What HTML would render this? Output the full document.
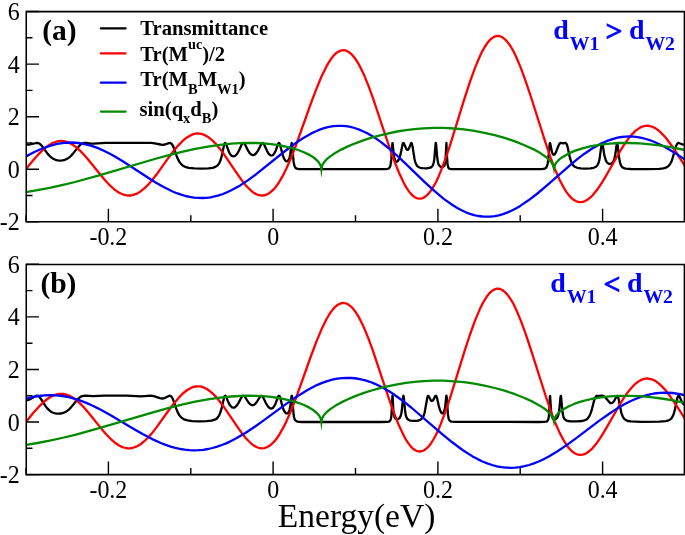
<!DOCTYPE html>
<html><head><meta charset="utf-8"><style>
html,body{margin:0;padding:0;background:#fff;width:685px;height:535px;overflow:hidden}
svg{display:block;will-change:transform}
text{font-family:"Liberation Serif",serif}
.tl{font-size:24px}
.pl{font-size:29.5px;font-weight:bold}
.dl{font-size:28px;font-weight:bold;fill:#00f}
.dls{font-size:19.7px;font-weight:bold;fill:#00f}
.dlr{font-size:30px;font-weight:bold;fill:#00f;stroke:#00f;stroke-width:0.7px}
.sub{font-size:18px}
.lg{font-size:20.6px;font-weight:bold}
.sup{font-size:14.3px}
.sub2{font-size:14.5px}
.ax{font-size:33.5px}
</style></head><body>
<svg width="685" height="535" viewBox="0 0 685 535">
<rect width="685" height="535" fill="#fff"/>
<clipPath id="c0"><rect x="26.0" y="10.5" width="659.0" height="212.3"/></clipPath>
<g clip-path="url(#c0)" fill="none" stroke-width="2.3" stroke-linejoin="round">
<path d="M26.0,144.5L28.0,144.6L30.0,144.4L36.4,143.0L37.7,143.0L39.0,143.4L40.3,144.3L41.7,145.6L47.7,153.9L49.6,155.9L51.2,157.4L53.3,158.9L55.5,159.8L57.8,160.4L60.3,160.6L62.6,160.4L64.9,159.8L67.0,158.9L69.0,157.6L70.8,156.0L72.6,154.1L77.9,147.4L79.7,145.4L81.9,143.7L84.0,143.0L86.1,143.0L90.9,143.6L93.5,143.7L105.6,142.9L151.2,142.9L154.7,143.3L160.4,144.5L162.7,144.8L164.9,144.5L168.8,143.1L170.2,143.0L171.5,143.7L172.6,145.2L173.8,147.8L176.7,156.2L178.2,159.7L180.0,162.8L182.2,165.1L183.5,166.0L185.0,166.8L188.8,167.8L194.2,168.4L202.0,168.6L208.4,168.4L212.8,167.8L215.8,166.7L217.9,165.1L219.4,162.9L220.7,159.7L221.9,155.4L224.0,145.2L224.7,143.4L225.2,142.9L225.7,143.3L226.2,144.2L228.5,150.8L230.0,153.9L231.6,155.8L232.4,156.2L233.4,156.4L234.4,156.2L235.2,155.8L237.0,154.0L238.7,151.2L241.7,144.6L242.5,143.4L243.1,143.0L244.0,143.1L244.8,144.1L248.1,150.7L249.7,153.2L251.4,154.6L253.0,155.1L254.7,154.7L256.3,153.2L258.0,150.7L261.3,144.0L262.1,143.1L262.9,143.0L263.6,143.6L264.2,144.7L266.9,150.6L268.3,153.3L269.8,154.9L270.7,155.3L271.5,155.5L272.3,155.3L273.0,154.9L274.4,153.2L275.8,150.4L278.1,143.9L278.6,143.1L279.1,143.0L279.6,143.5L280.0,144.7L282.4,153.8L283.7,157.8L284.5,159.4L285.3,160.5L286.1,161.1L287.0,161.3L287.8,161.0L288.4,160.3L289.1,159.0L289.6,157.5L290.3,154.2L291.4,144.5L291.7,143.0L291.9,143.2L292.2,145.7L293.6,161.9L294.4,165.8L295.4,167.7L296.8,168.7L299.2,169.1L315.0,169.2L380.7,169.2L385.5,169.1L387.8,168.8L388.8,168.4L389.6,167.5L390.1,166.5L390.6,164.7L391.3,159.4L392.4,143.1L392.6,143.1L392.7,144.0L393.7,154.3L394.4,158.2L395.4,160.9L396.0,161.6L396.7,161.8L397.3,161.5L398.0,160.9L399.3,158.4L400.5,154.4L402.5,144.8L402.9,143.4L403.4,142.9L404.1,143.6L406.2,148.7L406.9,149.6L407.6,149.9L408.2,149.6L408.9,148.6L411.0,143.2L411.4,142.9L411.7,143.2L412.5,146.3L414.5,158.9L415.1,161.6L416.0,163.9L417.1,165.8L418.4,167.0L420.2,167.8L422.7,168.2L426.5,168.3L429.6,167.9L431.4,167.1L432.1,166.5L432.8,165.4L433.6,163.0L434.3,159.2L435.7,143.0L435.9,143.1L436.1,144.2L437.1,156.3L437.9,162.1L438.4,163.9L439.0,165.3L439.9,166.3L441.0,166.9L442.5,167.0L443.6,166.5L444.5,165.4L445.0,163.9L445.6,158.7L446.4,143.0L447.1,158.1L447.6,164.8L448.3,167.5L448.9,168.4L449.7,168.8L451.7,169.1L456.0,169.2L524.4,169.2L542.0,169.1L544.5,168.7L546.0,167.9L546.9,166.3L547.8,163.2L548.4,158.0L549.6,144.6L549.7,143.6L550.1,143.0L552.0,152.3L552.9,154.2L553.4,154.7L553.9,154.8L554.7,154.4L555.7,152.9L558.6,145.3L559.8,143.4L560.8,142.9L563.1,143.4L565.2,142.9L565.9,143.1L566.7,144.2L567.4,146.1L569.7,156.7L570.7,160.4L571.8,163.4L573.0,165.2L574.8,166.8L577.3,167.8L580.7,168.4L585.7,168.6L590.4,168.4L593.7,167.8L595.9,166.8L596.7,166.1L597.5,165.1L598.7,162.5L599.5,159.2L601.5,145.0L601.8,143.4L602.1,142.9L602.5,143.6L602.8,145.3L604.4,155.6L605.8,160.2L606.7,162.1L607.9,163.3L609.2,163.9L610.7,163.8L611.9,163.3L612.8,162.3L613.7,160.8L614.3,159.0L615.3,154.5L616.6,145.0L617.1,143.0L617.3,143.0L617.6,144.3L618.9,156.4L619.9,162.3L621.1,165.6L621.9,166.8L622.9,167.6L624.0,168.1L625.7,168.6L631.0,169.0L647.9,169.1L659.3,168.8L663.3,168.4L666.1,167.6L668.2,166.3L669.8,164.5L671.0,162.5L672.0,160.2L675.8,146.9L676.6,144.8L677.6,143.3L678.2,143.0L678.9,143.0L682.5,144.5L683.7,144.7L685.0,144.7" stroke="#000"/>
<path d="M26.0,169.1L33.4,160.0L38.7,154.1L43.6,149.2L48.1,145.7L52.5,143.0L56.8,141.5L58.9,141.1L61.1,141.0L63.2,141.1L65.4,141.5L69.0,142.7L72.6,144.7L76.4,147.4L80.5,151.1L84.0,154.7L87.9,159.2L100.5,174.8L105.2,180.5L110.0,185.5L114.3,189.4L119.1,192.7L121.4,193.8L123.5,194.7L125.8,195.2L128.0,195.5L130.1,195.5L132.3,195.2L136.2,193.9L140.2,191.7L144.3,188.4L148.6,184.2L152.2,180.1L156.3,174.8L169.3,156.7L173.9,150.6L178.6,145.1L182.8,140.7L187.3,137.2L191.4,134.9L193.6,134.1L195.5,133.7L197.5,133.5L199.5,133.6L201.5,133.9L203.4,134.6L205.4,135.4L207.6,136.7L211.7,139.8L216.0,144.1L219.6,148.4L223.7,153.9L236.9,173.4L241.5,179.9L245.9,185.5L250.1,189.7L252.2,191.6L254.3,193.1L256.5,194.2L258.5,195.0L260.4,195.4L262.4,195.5L264.4,195.3L266.2,194.7L268.7,193.5L271.1,191.7L273.6,189.4L276.1,186.4L278.6,183.0L281.0,178.9L283.7,174.1L286.3,168.7L290.8,158.6L295.7,146.0L311.0,103.2L316.3,89.1L321.4,76.8L326.2,66.9L328.5,62.9L330.8,59.3L333.1,56.3L335.2,54.0L337.5,52.2L339.7,51.0L341.8,50.3L344.0,50.2L346.3,50.7L348.7,52.0L351.1,53.8L353.5,56.5L356.0,59.8L358.5,63.8L360.9,68.4L363.6,73.9L368.0,84.6L372.8,97.6L388.3,144.0L393.7,159.5L399.0,172.8L403.8,183.0L406.1,187.1L408.4,190.6L410.7,193.6L413.0,195.9L415.3,197.5L417.4,198.4L419.8,198.7L421.9,198.4L424.2,197.4L426.5,195.7L428.8,193.4L431.1,190.4L433.4,186.7L435.9,182.2L438.4,176.9L440.8,171.1L445.1,159.9L449.7,146.3L464.7,97.9L470.2,81.2L475.3,67.1L480.1,55.8L482.4,51.1L484.7,47.0L487.0,43.5L489.1,40.8L491.4,38.6L493.6,37.1L495.7,36.2L497.8,35.9L500.0,36.2L502.3,37.2L504.4,38.8L506.7,41.1L509.0,44.0L511.4,47.6L513.7,51.7L516.1,56.7L520.9,68.1L526.0,82.1L531.3,98.0L546.0,144.2L550.6,157.6L554.8,168.9L559.8,180.3L564.4,188.9L566.7,192.4L569.0,195.4L571.3,197.9L573.6,199.8L575.8,201.0L578.1,201.9L580.4,202.1L582.7,201.9L585.0,201.1L587.5,199.7L589.9,197.8L592.4,195.5L596.9,190.1L601.8,182.8L606.7,174.6L619.8,151.7L623.7,145.3L627.3,140.1L631.5,134.9L635.4,130.9L639.4,128.1L641.3,127.0L643.2,126.4L645.3,125.9L647.4,125.7L649.6,126.0L651.9,126.6L654.0,127.5L656.3,128.8L658.6,130.5L660.9,132.6L665.6,137.5L670.5,144.0L675.8,151.7L685.0,166.1" stroke="#f00"/>
<path d="M26.0,156.4L34.4,152.0L42.3,148.5L49.9,145.8L57.1,143.9L64.4,142.8L71.5,142.5L78.6,143.0L85.6,144.3L91.7,145.9L98.0,148.1L104.4,151.0L111.3,154.5L117.4,157.9L124.0,162.0L146.6,176.8L155.2,182.2L164.1,187.3L172.1,191.3L176.7,193.2L181.2,194.7L185.5,196.0L189.8,196.9L194.0,197.6L198.2,197.9L202.4,198.0L206.6,197.8L210.5,197.3L214.6,196.4L218.8,195.3L222.9,194.0L227.0,192.3L231.3,190.3L240.2,185.4L247.8,180.4L256.2,174.2L283.2,152.5L292.9,145.0L302.5,138.5L311.3,133.4L316.0,131.2L320.4,129.4L324.9,127.9L329.1,126.9L333.4,126.2L337.7,125.8L342.0,125.9L346.3,126.2L350.4,126.9L354.5,128.0L358.6,129.4L362.9,131.2L367.2,133.3L371.6,135.8L376.1,138.6L380.7,141.9L388.4,148.0L397.0,155.5L405.3,163.3L424.7,182.1L434.6,191.2L444.1,199.1L452.9,205.3L457.3,208.0L461.6,210.3L465.9,212.3L470.0,213.8L474.1,215.1L478.2,216.0L482.4,216.5L486.5,216.7L490.6,216.6L494.7,216.1L498.8,215.3L503.0,214.1L507.1,212.6L511.4,210.7L515.8,208.5L520.2,205.9L528.5,200.3L537.4,193.5L546.4,185.9L570.5,164.8L577.9,158.7L584.5,153.7L592.2,148.5L599.5,144.4L606.4,141.2L613.3,138.8L617.5,137.7L621.6,137.0L625.5,136.6L629.6,136.5L633.6,136.7L637.7,137.1L641.8,137.9L646.1,139.0L650.2,140.3L654.5,142.0L663.6,146.3L673.3,151.9L685.0,159.6" stroke="#00f"/>
<path d="M26.0,192.1L37.5,190.2L49.6,187.9L61.9,185.2L75.1,182.0L99.1,175.4L154.7,159.0L169.0,155.1L181.9,151.9L195.2,148.9L207.9,146.6L219.9,144.9L231.4,143.7L239.8,143.2L248.1,142.9L256.0,143.0L263.7,143.4L271.1,144.1L278.4,145.2L285.3,146.5L291.9,148.1L298.2,150.0L303.9,152.2L308.9,154.6L313.2,157.2L316.6,160.0L319.1,162.7L320.7,165.7L321.4,168.4L322.2,165.4L324.0,162.3L326.8,159.2L330.6,156.1L335.6,152.8L341.3,149.6L347.9,146.4L355.3,143.3L363.2,140.4L371.5,137.7L380.0,135.3L388.6,133.3L397.2,131.5L405.9,130.1L414.6,129.1L423.4,128.3L433.6,127.9L443.6,127.9L453.9,128.5L464.1,129.4L474.3,130.9L484.5,132.8L494.7,135.2L504.6,137.9L515.0,141.4L524.5,145.2L533.1,149.1L540.3,153.1L546.0,157.0L550.1,160.8L551.6,162.7L552.7,164.5L553.5,166.6L553.9,168.2L554.5,165.9L555.2,164.4L556.3,162.6L558.0,160.7L560.0,158.9L562.3,157.2L567.9,153.9L574.6,150.9L582.5,148.3L591.3,146.2L600.6,144.6L609.9,143.6L619.6,143.0L629.6,143.0L639.9,143.4L650.4,144.3L661.4,145.7L673.0,147.6L685.0,150.0" stroke="#008a00"/>
<path d="M319.95,166.23L322.85,166.23L321.40,178.33Z" fill="#008a00" stroke="none"/>
<path d="M552.55,166.23L555.45,166.23L554.00,174.53Z" fill="#008a00" stroke="none"/>
</g>
<path d="M26.25,11.60H684.4V221.80H26.25Z" fill="none" stroke="#000" stroke-width="1.55"/>
<path d="M26.0,221.8V215.3M108.4,221.8V208.8M190.8,221.8V215.3M273.1,221.8V208.8M355.5,221.8V215.3M437.9,221.8V208.8M520.2,221.8V215.3M602.6,221.8V208.8M685.0,221.8V215.3M26.0,221.8H39.0M26.0,195.5H32.5M26.0,169.2H39.0M26.0,142.9H32.5M26.0,116.7H39.0M26.0,90.4H32.5M26.0,64.1H39.0M26.0,37.8H32.5M26.0,11.5H39.0" stroke="#000" stroke-width="1.4" fill="none"/>
<text transform="translate(19.80,230.40) scale(1.0,1.035)" class="tl" text-anchor="end">-2</text>
<text transform="translate(19.80,177.83) scale(1.0,1.035)" class="tl" text-anchor="end">0</text>
<text transform="translate(19.80,125.25) scale(1.0,1.035)" class="tl" text-anchor="end">2</text>
<text transform="translate(19.80,72.67) scale(1.0,1.035)" class="tl" text-anchor="end">4</text>
<text transform="translate(19.80,20.10) scale(1.0,1.035)" class="tl" text-anchor="end">6</text>
<text transform="translate(108.37,245.30) scale(1.0,1.035)" class="tl" text-anchor="middle">-0.2</text>
<text transform="translate(273.12,245.30) scale(1.0,1.035)" class="tl" text-anchor="middle">0</text>
<text transform="translate(437.88,245.30) scale(1.0,1.035)" class="tl" text-anchor="middle">0.2</text>
<text transform="translate(602.62,245.30) scale(1.0,1.035)" class="tl" text-anchor="middle">0.4</text>
<text x="42.20" y="39.50" class="pl">(a)</text>
<text x="553.20" y="38.70" class="dl">d</text>
<text x="569.80" y="49.50" class="dls">W1</text>
<text x="605.50" y="41.20" class="dlr">&gt;</text>
<text x="628.90" y="38.50" class="dl">d</text>
<text x="645.40" y="50.00" class="dls">W2</text>
<path d="M100.8,28.3H125.6" stroke="#000" stroke-width="2.2" stroke-linecap="round"/>
<path d="M100.8,53.3H125.6" stroke="#f00" stroke-width="2.2" stroke-linecap="round"/>
<path d="M100.8,82.7H125.6" stroke="#00f" stroke-width="2.2" stroke-linecap="round"/>
<path d="M100.8,111.6H125.6" stroke="#008a00" stroke-width="2.2" stroke-linecap="round"/>
<text x="140.30" y="34.90" class="lg">Transmittance</text>
<text x="140.30" y="61.20" class="lg">Tr(M<tspan dy="-12" class="sup">uc</tspan><tspan dy="12">)/2</tspan></text>
<text x="140.30" y="85.80" class="lg">Tr(M<tspan dy="8.2" class="sub2">B</tspan><tspan dy="-8.2">M</tspan><tspan dy="8.2" class="sub2">W1</tspan><tspan dy="-8.2">)</tspan></text>
<text x="139.60" y="115.60" class="lg">sin(q<tspan dy="7.7" class="sub2">x</tspan><tspan dy="-7.7">d</tspan><tspan dy="7.7" class="sub2">B</tspan><tspan dy="-7.7">)</tspan></text>
<clipPath id="c1"><rect x="26.0" y="263.3" width="659.0" height="212.3"/></clipPath>
<g clip-path="url(#c1)" fill="none" stroke-width="2.3" stroke-linejoin="round">
<path d="M26.0,400.2L27.8,400.1L29.6,399.5L35.6,396.0L36.7,395.7L37.9,395.9L39.0,396.6L40.3,398.0L45.9,406.6L47.6,408.7L49.4,410.4L51.5,412.0L53.8,413.0L56.3,413.6L58.8,413.7L61.1,413.5L63.2,412.9L65.4,412.0L67.4,410.7L69.2,409.3L71.0,407.4L76.6,400.5L78.6,398.4L80.9,396.7L83.3,395.9L85.6,395.7L93.1,396.1L104.3,395.7L126.8,395.7L141.0,396.3L150.9,395.7L153.8,396.2L159.8,398.2L162.2,398.5L164.7,398.1L168.7,396.0L170.0,395.7L171.1,396.3L172.3,397.9L173.5,400.6L176.1,408.4L177.6,412.1L179.4,415.4L181.4,417.6L184.0,419.3L187.5,420.4L192.4,421.1L199.3,421.3L206.6,421.2L211.5,420.7L214.8,419.7L216.1,419.0L217.3,418.0L218.9,415.9L220.2,412.9L221.6,408.4L223.9,398.2L224.5,396.4L225.2,395.7L225.7,396.0L226.2,396.8L228.6,402.9L230.0,405.3L231.6,407.1L232.4,407.5L233.3,407.7L234.1,407.6L235.1,407.1L236.7,405.6L238.4,403.1L241.5,397.3L242.3,396.3L243.0,395.8L243.8,395.8L244.8,396.6L248.2,402.0L249.7,403.8L251.2,404.9L252.5,405.2L254.0,404.8L255.3,403.8L256.8,402.0L260.1,396.6L260.9,395.9L261.8,395.8L262.4,396.3L263.2,397.4L266.2,403.7L267.9,406.4L269.5,408.0L270.3,408.4L271.1,408.5L272.0,408.4L272.8,407.9L274.3,406.1L275.6,403.4L277.9,397.0L278.6,395.9L279.1,395.8L279.6,396.2L280.2,397.9L282.5,406.7L283.8,410.3L285.3,412.7L286.1,413.3L287.0,413.5L287.8,413.2L288.4,412.5L289.1,411.2L289.6,409.6L290.3,406.3L291.4,397.1L291.7,395.8L291.9,395.9L292.2,398.3L293.6,414.1L294.0,417.0L294.5,418.8L295.4,420.3L296.7,421.3L298.7,421.8L302.1,422.0L381.4,422.0L386.5,421.9L388.8,421.6L389.8,421.1L390.4,420.2L390.9,418.8L391.3,416.8L391.7,410.5L392.4,396.0L392.6,396.1L393.2,408.0L393.7,413.5L394.4,416.8L395.2,418.4L395.9,419.0L396.5,419.2L397.5,419.3L398.3,419.0L399.7,417.9L400.6,416.0L401.3,413.5L401.8,410.5L403.1,397.1L403.4,395.7L403.8,397.1L405.1,411.0L405.7,414.9L406.4,417.1L407.4,418.9L408.7,420.0L410.7,420.7L413.3,420.9L417.0,420.8L419.6,420.2L421.4,419.1L422.9,417.3L423.9,415.0L424.7,412.2L427.2,398.2L427.7,396.4L428.2,395.8L428.5,395.8L428.8,396.3L430.8,400.2L431.4,400.9L431.9,401.0L432.4,400.8L433.1,400.2L435.4,395.9L435.9,395.8L436.2,396.0L437.1,398.2L438.9,406.4L439.9,409.8L441.2,412.5L441.8,413.2L442.5,413.4L443.1,413.1L443.6,412.5L444.6,409.7L445.3,405.6L446.1,397.5L446.4,395.7L446.8,397.6L447.9,414.2L448.7,418.9L449.4,420.3L450.4,421.3L451.9,421.7L454.2,421.9L538.5,422.0L544.0,421.9L546.3,421.6L547.3,421.1L547.9,420.3L548.4,418.9L548.8,417.0L549.2,410.9L549.9,396.3L550.1,395.9L551.2,413.2L551.9,416.6L552.7,418.3L553.4,418.9L554.0,419.2L555.0,419.2L555.8,419.0L557.2,417.8L558.1,415.8L558.8,413.2L559.3,410.0L560.4,397.6L560.8,395.8L561.1,396.9L562.6,412.8L563.1,415.5L563.7,417.7L564.7,419.4L566.1,420.4L567.9,421.0L570.7,421.4L577.1,421.4L582.2,421.0L585.3,420.1L586.6,419.4L587.6,418.5L589.3,416.3L590.6,413.4L591.8,409.7L593.9,401.2L594.9,398.2L595.9,396.5L596.5,395.9L597.2,395.8L599.7,395.9L602.3,395.7L603.8,396.1L605.4,397.5L609.2,402.1L610.4,403.0L611.4,403.2L612.3,402.9L613.3,402.1L614.5,400.3L616.5,396.4L617.0,395.8L617.5,395.8L617.9,396.6L618.6,398.9L621.2,412.3L622.1,415.0L622.9,416.9L624.2,418.8L625.9,420.1L628.0,421.0L630.8,421.4L641.2,421.8L659.3,421.7L665.6,421.2L667.7,420.7L669.3,420.0L670.7,419.1L671.7,418.0L672.6,416.4L673.5,414.6L674.8,410.0L677.3,398.3L677.9,396.4L678.4,395.8L678.9,395.8L679.6,396.7L681.7,401.3L682.9,403.3L683.8,404.4L685.0,405.2" stroke="#000"/>
<path d="M26.0,421.9L33.4,412.8L38.7,406.9L43.6,402.0L48.1,398.5L52.5,395.8L56.8,394.3L58.9,393.9L61.1,393.8L63.2,393.9L65.4,394.3L69.0,395.5L72.6,397.5L76.4,400.2L80.5,403.9L84.0,407.5L87.9,412.0L100.5,427.6L105.2,433.3L110.0,438.3L114.3,442.2L119.1,445.5L121.4,446.6L123.5,447.5L125.8,448.0L128.0,448.3L130.1,448.3L132.3,448.0L136.2,446.7L140.2,444.5L144.3,441.2L148.6,437.0L152.2,432.9L156.3,427.6L169.3,409.5L173.9,403.4L178.6,397.9L182.8,393.5L187.3,390.0L191.4,387.7L193.6,386.9L195.5,386.5L197.5,386.3L199.5,386.4L201.5,386.7L203.4,387.4L205.4,388.2L207.6,389.5L211.7,392.6L216.0,396.9L219.6,401.2L223.7,406.7L236.9,426.2L241.5,432.7L245.9,438.3L250.1,442.5L252.2,444.4L254.3,445.9L256.5,447.0L258.5,447.8L260.4,448.2L262.4,448.3L264.4,448.1L266.2,447.5L268.7,446.3L271.1,444.5L273.6,442.2L276.1,439.2L278.6,435.8L281.0,431.7L283.7,426.9L286.3,421.5L290.8,411.4L295.7,398.8L311.0,356.0L316.3,341.9L321.4,329.6L326.2,319.7L328.5,315.7L330.8,312.1L333.1,309.1L335.2,306.8L337.5,305.0L339.7,303.8L341.8,303.1L344.0,303.0L346.3,303.5L348.7,304.8L351.1,306.6L353.5,309.3L356.0,312.6L358.5,316.6L360.9,321.2L363.6,326.7L368.0,337.4L372.8,350.4L388.3,396.8L393.7,412.3L399.0,425.6L403.8,435.8L406.1,439.9L408.4,443.4L410.7,446.4L413.0,448.7L415.3,450.3L417.4,451.2L419.8,451.5L421.9,451.2L424.2,450.2L426.5,448.5L428.8,446.2L431.1,443.2L433.4,439.5L435.9,435.0L438.4,429.7L440.8,423.9L445.1,412.7L449.7,399.1L464.7,350.7L470.2,334.0L475.3,319.9L480.1,308.6L482.4,303.9L484.7,299.8L487.0,296.3L489.1,293.6L491.4,291.4L493.6,289.9L495.7,289.0L497.8,288.7L500.0,289.0L502.3,290.0L504.4,291.6L506.7,293.9L509.0,296.8L511.4,300.4L513.7,304.5L516.1,309.5L520.9,320.9L526.0,334.9L531.3,350.8L546.0,397.0L550.6,410.4L554.8,421.7L559.8,433.1L564.4,441.7L566.7,445.2L569.0,448.2L571.3,450.7L573.6,452.6L575.8,453.8L578.1,454.7L580.4,454.9L582.7,454.7L585.0,453.9L587.5,452.5L589.9,450.6L592.4,448.3L596.9,442.9L601.8,435.6L606.7,427.4L619.8,404.5L623.7,398.1L627.3,392.9L631.5,387.7L635.4,383.7L639.4,380.9L641.3,379.8L643.2,379.2L645.3,378.7L647.4,378.5L649.6,378.8L651.9,379.4L654.0,380.3L656.3,381.6L658.6,383.3L660.9,385.4L665.6,390.3L670.5,396.8L675.8,404.5L685.0,418.9" stroke="#f00"/>
<path d="M26.0,398.8L32.3,397.2L38.4,396.0L44.5,395.3L50.5,395.1L56.5,395.3L62.6,396.0L68.7,397.2L74.9,398.8L80.5,400.7L86.3,402.9L92.2,405.5L98.5,408.6L110.7,415.3L133.4,428.8L142.6,434.1L152.2,439.1L160.8,443.0L165.7,444.9L170.7,446.6L175.4,447.9L180.2,449.0L184.8,449.7L189.4,450.2L194.0,450.3L198.7,450.2L203.3,449.8L207.9,449.0L212.5,448.0L217.1,446.7L221.9,445.0L226.7,443.1L231.6,440.7L236.7,438.1L245.3,433.0L254.8,426.7L263.7,420.4L285.2,404.6L296.2,396.9L307.1,390.2L312.2,387.5L316.9,385.1L322.2,382.9L327.3,381.1L332.3,379.7L337.2,378.7L342.2,378.1L346.9,377.8L351.7,378.0L356.5,378.5L360.9,379.3L365.4,380.4L369.8,381.8L374.4,383.6L379.1,385.7L383.8,388.2L388.6,391.0L393.6,394.2L402.0,400.2L411.2,407.5L441.3,433.4L452.2,442.3L462.9,450.2L472.6,456.4L477.6,459.1L482.5,461.5L487.3,463.4L492.1,465.0L496.9,466.3L501.5,467.1L506.1,467.6L510.7,467.8L515.3,467.6L519.9,467.1L524.5,466.2L529.1,465.0L533.9,463.4L538.7,461.5L543.6,459.2L548.8,456.5L557.5,451.3L567.0,444.9L576.3,438.1L599.0,420.9L611.4,412.2L617.8,408.1L623.9,404.6L629.8,401.5L635.4,399.0L641.7,396.6L647.9,394.8L654.0,393.5L660.1,392.8L666.2,392.6L672.5,393.0L678.7,393.9L685.0,395.3" stroke="#00f"/>
<path d="M26.0,444.9L37.5,443.0L49.6,440.7L61.9,438.0L75.1,434.8L99.1,428.2L154.7,411.8L169.0,407.9L181.9,404.7L195.2,401.7L207.9,399.4L219.9,397.7L231.4,396.5L239.8,396.0L248.1,395.7L256.0,395.8L263.7,396.2L271.1,396.9L278.4,398.0L285.3,399.3L291.9,400.9L298.2,402.8L303.9,405.0L308.9,407.4L313.2,410.0L316.6,412.8L319.1,415.5L320.7,418.5L321.4,421.2L322.2,418.2L324.0,415.1L326.8,412.0L330.6,408.9L335.6,405.6L341.3,402.4L347.9,399.2L355.3,396.1L363.2,393.2L371.5,390.5L380.0,388.1L388.6,386.1L397.2,384.3L405.9,382.9L414.6,381.9L423.4,381.1L433.6,380.7L443.6,380.7L453.9,381.3L464.1,382.2L474.3,383.7L484.5,385.6L494.7,388.0L504.6,390.7L515.0,394.2L524.5,398.0L533.1,401.9L540.3,405.9L546.0,409.8L550.1,413.6L551.6,415.5L552.7,417.3L553.5,419.4L553.9,421.0L554.5,418.7L555.2,417.2L556.3,415.4L558.0,413.5L560.0,411.7L562.3,410.0L567.9,406.7L574.6,403.7L582.5,401.1L591.3,399.0L600.6,397.4L609.9,396.4L619.6,395.8L629.6,395.8L639.9,396.2L650.4,397.1L661.4,398.5L673.0,400.4L685.0,402.8" stroke="#008a00"/>
<path d="M319.95,419.03L322.85,419.03L321.40,431.13Z" fill="#008a00" stroke="none"/>
<path d="M552.55,419.03L555.45,419.03L554.00,427.33Z" fill="#008a00" stroke="none"/>
</g>
<path d="M26.25,264.40H684.4V474.60H26.25Z" fill="none" stroke="#000" stroke-width="1.55"/>
<path d="M26.0,474.6V468.1M108.4,474.6V461.6M190.8,474.6V468.1M273.1,474.6V461.6M355.5,474.6V468.1M437.9,474.6V461.6M520.2,474.6V468.1M602.6,474.6V461.6M685.0,474.6V468.1M26.0,474.6H39.0M26.0,448.3H32.5M26.0,422.0H39.0M26.0,395.7H32.5M26.0,369.5H39.0M26.0,343.2H32.5M26.0,316.9H39.0M26.0,290.6H32.5M26.0,264.3H39.0" stroke="#000" stroke-width="1.4" fill="none"/>
<text transform="translate(19.80,483.20) scale(1.0,1.035)" class="tl" text-anchor="end">-2</text>
<text transform="translate(19.80,430.63) scale(1.0,1.035)" class="tl" text-anchor="end">0</text>
<text transform="translate(19.80,378.05) scale(1.0,1.035)" class="tl" text-anchor="end">2</text>
<text transform="translate(19.80,325.48) scale(1.0,1.035)" class="tl" text-anchor="end">4</text>
<text transform="translate(19.80,272.90) scale(1.0,1.035)" class="tl" text-anchor="end">6</text>
<text transform="translate(108.37,498.10) scale(1.0,1.035)" class="tl" text-anchor="middle">-0.2</text>
<text transform="translate(273.12,498.10) scale(1.0,1.035)" class="tl" text-anchor="middle">0</text>
<text transform="translate(437.88,498.10) scale(1.0,1.035)" class="tl" text-anchor="middle">0.2</text>
<text transform="translate(602.62,498.10) scale(1.0,1.035)" class="tl" text-anchor="middle">0.4</text>
<text x="40.40" y="293.30" class="pl">(b)</text>
<text x="550.30" y="291.70" class="dl">d</text>
<text x="566.90" y="302.50" class="dls">W1</text>
<text x="603.50" y="294.20" class="dlr">&lt;</text>
<text x="626.90" y="291.50" class="dl">d</text>
<text x="643.40" y="303.00" class="dls">W2</text>
<text x="277.80" y="527.30" class="ax">Energy(eV)</text>
</svg></body></html>
